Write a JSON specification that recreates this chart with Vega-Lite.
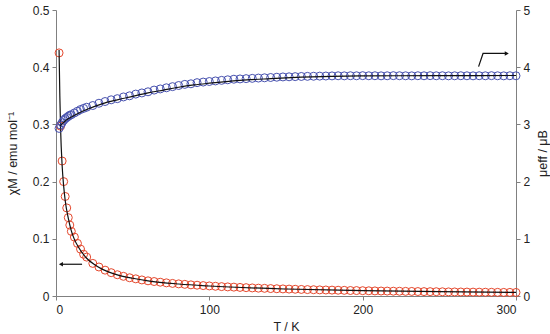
{
  "$schema": "https://vega.github.io/schema/vega-lite/v6.json",
  "width": 460,
  "height": 286,
  "autosize": {"type": "none"},
  "padding": {"left": 56, "top": 10, "right": 34, "bottom": 38},
  "background": "white",
  "config": {
    "view": {"stroke": null},
    "font": "Liberation Sans",
    "axis": {
      "domainColor": "#808080",
      "tickColor": "#808080",
      "labelColor": "#222222",
      "titleColor": "#222222",
      "labelFontSize": 12,
      "titleFontSize": 12.5,
      "titleFontWeight": "normal",
      "grid": false,
      "tickSize": 4
    }
  },
  "datasets": {
    "obs": [
      {"T": 2, "chi": 0.425, "mu": 2.93},
      {"T": 3, "chi": 0.297, "mu": 2.99},
      {"T": 4, "chi": 0.236, "mu": 3.03},
      {"T": 5, "chi": 0.2, "mu": 3.07},
      {"T": 6, "chi": 0.174, "mu": 3.1},
      {"T": 7, "chi": 0.154, "mu": 3.12},
      {"T": 8, "chi": 0.137, "mu": 3.14},
      {"T": 9, "chi": 0.124, "mu": 3.16},
      {"T": 10, "chi": 0.113, "mu": 3.17},
      {"T": 12, "chi": 0.103, "mu": 3.2},
      {"T": 14, "chi": 0.092, "mu": 3.23},
      {"T": 16, "chi": 0.082, "mu": 3.26},
      {"T": 18, "chi": 0.073, "mu": 3.28},
      {"T": 20, "chi": 0.068, "mu": 3.3},
      {"T": 24, "chi": 0.057, "mu": 3.33},
      {"T": 28, "chi": 0.0507, "mu": 3.37},
      {"T": 32, "chi": 0.0452, "mu": 3.4},
      {"T": 36, "chi": 0.0408, "mu": 3.43},
      {"T": 40, "chi": 0.0372, "mu": 3.45},
      {"T": 44, "chi": 0.0344, "mu": 3.48},
      {"T": 48, "chi": 0.0319, "mu": 3.5},
      {"T": 52, "chi": 0.03, "mu": 3.53},
      {"T": 56, "chi": 0.0281, "mu": 3.55},
      {"T": 60, "chi": 0.0265, "mu": 3.57},
      {"T": 64, "chi": 0.0253, "mu": 3.6},
      {"T": 68, "chi": 0.0241, "mu": 3.62},
      {"T": 72, "chi": 0.023, "mu": 3.64},
      {"T": 76, "chi": 0.022, "mu": 3.66},
      {"T": 80, "chi": 0.0212, "mu": 3.68},
      {"T": 84, "chi": 0.0204, "mu": 3.7},
      {"T": 88, "chi": 0.0195, "mu": 3.71},
      {"T": 92, "chi": 0.0189, "mu": 3.73},
      {"T": 96, "chi": 0.0182, "mu": 3.74},
      {"T": 100, "chi": 0.0176, "mu": 3.75},
      {"T": 104, "chi": 0.017, "mu": 3.76},
      {"T": 108, "chi": 0.0164, "mu": 3.77},
      {"T": 112, "chi": 0.0159, "mu": 3.78},
      {"T": 116, "chi": 0.0155, "mu": 3.79},
      {"T": 120, "chi": 0.015, "mu": 3.795},
      {"T": 124, "chi": 0.0146, "mu": 3.8},
      {"T": 128, "chi": 0.0141, "mu": 3.805},
      {"T": 132, "chi": 0.0137, "mu": 3.81},
      {"T": 136, "chi": 0.0134, "mu": 3.815},
      {"T": 140, "chi": 0.013, "mu": 3.82},
      {"T": 144, "chi": 0.0127, "mu": 3.825},
      {"T": 148, "chi": 0.0124, "mu": 3.83},
      {"T": 152, "chi": 0.0121, "mu": 3.832},
      {"T": 156, "chi": 0.0118, "mu": 3.835},
      {"T": 160, "chi": 0.0115, "mu": 3.838},
      {"T": 164, "chi": 0.0112, "mu": 3.84},
      {"T": 168, "chi": 0.011, "mu": 3.842},
      {"T": 172, "chi": 0.0107, "mu": 3.844},
      {"T": 176, "chi": 0.0105, "mu": 3.846},
      {"T": 180, "chi": 0.0103, "mu": 3.848},
      {"T": 184, "chi": 0.0101, "mu": 3.85},
      {"T": 188, "chi": 0.0099, "mu": 3.849},
      {"T": 192, "chi": 0.0096, "mu": 3.851},
      {"T": 196, "chi": 0.0095, "mu": 3.85},
      {"T": 200, "chi": 0.0093, "mu": 3.852},
      {"T": 204, "chi": 0.0091, "mu": 3.85},
      {"T": 208, "chi": 0.0089, "mu": 3.851},
      {"T": 212, "chi": 0.0087, "mu": 3.849},
      {"T": 216, "chi": 0.0086, "mu": 3.85},
      {"T": 220, "chi": 0.0084, "mu": 3.852},
      {"T": 224, "chi": 0.0083, "mu": 3.851},
      {"T": 228, "chi": 0.0081, "mu": 3.85},
      {"T": 232, "chi": 0.008, "mu": 3.849},
      {"T": 236, "chi": 0.0078, "mu": 3.851},
      {"T": 240, "chi": 0.0077, "mu": 3.85},
      {"T": 244, "chi": 0.0076, "mu": 3.852},
      {"T": 248, "chi": 0.0075, "mu": 3.85},
      {"T": 252, "chi": 0.0074, "mu": 3.851},
      {"T": 256, "chi": 0.0072, "mu": 3.849},
      {"T": 260, "chi": 0.0071, "mu": 3.85},
      {"T": 264, "chi": 0.007, "mu": 3.851},
      {"T": 268, "chi": 0.0069, "mu": 3.85},
      {"T": 272, "chi": 0.0068, "mu": 3.849},
      {"T": 276, "chi": 0.0067, "mu": 3.851},
      {"T": 280, "chi": 0.0066, "mu": 3.85},
      {"T": 284, "chi": 0.0065, "mu": 3.852},
      {"T": 288, "chi": 0.0064, "mu": 3.85},
      {"T": 292, "chi": 0.0063, "mu": 3.849},
      {"T": 296, "chi": 0.0063, "mu": 3.851},
      {"T": 300, "chi": 0.0062, "mu": 3.85}
    ],
    "chiFit": [
      {"T": 2, "chi": 0.43},
      {"T": 2.5, "chi": 0.35},
      {"T": 3, "chi": 0.292},
      {"T": 4, "chi": 0.228},
      {"T": 5, "chi": 0.192},
      {"T": 6, "chi": 0.167},
      {"T": 8, "chi": 0.136},
      {"T": 10, "chi": 0.114},
      {"T": 12, "chi": 0.099},
      {"T": 15, "chi": 0.084},
      {"T": 20, "chi": 0.066},
      {"T": 25, "chi": 0.055},
      {"T": 30, "chi": 0.047},
      {"T": 40, "chi": 0.037},
      {"T": 50, "chi": 0.031},
      {"T": 60, "chi": 0.0265},
      {"T": 80, "chi": 0.021},
      {"T": 100, "chi": 0.0175},
      {"T": 150, "chi": 0.0122},
      {"T": 200, "chi": 0.0093},
      {"T": 250, "chi": 0.0075},
      {"T": 300, "chi": 0.0062}
    ],
    "muFit": [
      {"T": 2.5, "mu": 2.97},
      {"T": 4, "mu": 3.01},
      {"T": 6, "mu": 3.06},
      {"T": 8, "mu": 3.1},
      {"T": 10, "mu": 3.13},
      {"T": 15, "mu": 3.2},
      {"T": 20, "mu": 3.26},
      {"T": 30, "mu": 3.36},
      {"T": 40, "mu": 3.43},
      {"T": 50, "mu": 3.49},
      {"T": 60, "mu": 3.55},
      {"T": 70, "mu": 3.6},
      {"T": 80, "mu": 3.65},
      {"T": 90, "mu": 3.69},
      {"T": 100, "mu": 3.72},
      {"T": 120, "mu": 3.77},
      {"T": 140, "mu": 3.8},
      {"T": 160, "mu": 3.825},
      {"T": 180, "mu": 3.84},
      {"T": 200, "mu": 3.848},
      {"T": 250, "mu": 3.852},
      {"T": 300, "mu": 3.855}
    ],
    "leftArrow": [
      {"T": 17, "chi": 0.0555, "ord": 1},
      {"T": 3.6, "chi": 0.0555, "ord": 2}
    ],
    "leftHead": [{"T": 3.2, "chi": 0.0555}],
    "rightArrow": [
      {"T": 275.6, "mu": 4.01, "ord": 1},
      {"T": 278.5, "mu": 4.24, "ord": 2},
      {"T": 293.0, "mu": 4.24, "ord": 3}
    ],
    "rightHead": [{"T": 294.0, "mu": 4.24}]
  },
  "resolve": {"scale": {"y": "independent"}},
  "layer": [
    {
      "layer": [
        {
          "data": {"name": "obs"},
          "mark": {"type": "point", "shape": "circle", "filled": false, "color": "#E4472C", "size": 64, "strokeWidth": 1, "opacity": 1},
          "encoding": {
            "x": {"field": "T", "type": "quantitative", "scale": {"domain": [0, 300], "nice": false}, "axis": {"values": [0, 100, 200, 300], "title": "T / K", "labelPadding": 4, "titlePadding": 5}},
            "y": {"field": "chi", "type": "quantitative", "scale": {"domain": [0, 0.5], "nice": false}, "axis": {"orient": "left", "values": [0, 0.1, 0.2, 0.3, 0.4, 0.5], "format": ".1~f", "title": "χM / emu mol⁻¹", "labelPadding": 3, "titlePadding": 13}}
          }
        },
        {
          "data": {"name": "chiFit"},
          "mark": {"type": "line", "color": "#111111", "strokeWidth": 1.2, "interpolate": "monotone"},
          "encoding": {
            "x": {"field": "T", "type": "quantitative"},
            "y": {"field": "chi", "type": "quantitative"}
          }
        },
        {
          "data": {"name": "leftArrow"},
          "mark": {"type": "line", "color": "#111111", "strokeWidth": 1.2},
          "encoding": {
            "x": {"field": "T", "type": "quantitative"},
            "y": {"field": "chi", "type": "quantitative"},
            "order": {"field": "ord"}
          }
        },
        {
          "data": {"name": "leftHead"},
          "mark": {"type": "point", "shape": "triangle-left", "filled": true, "color": "#111111", "size": 22, "opacity": 1},
          "encoding": {
            "x": {"field": "T", "type": "quantitative"},
            "y": {"field": "chi", "type": "quantitative"}
          }
        }
      ]
    },
    {
      "layer": [
        {
          "data": {"name": "obs"},
          "mark": {"type": "point", "shape": "circle", "filled": false, "color": "#4650AE", "size": 64, "strokeWidth": 1, "opacity": 1},
          "encoding": {
            "x": {"field": "T", "type": "quantitative"},
            "y": {"field": "mu", "type": "quantitative", "scale": {"domain": [0, 5], "nice": false}, "axis": {"orient": "right", "values": [0, 1, 2, 3, 4, 5], "format": "d", "title": "μeff / μB", "titleAngle": 270, "titleBaseline": "top", "labelPadding": 3, "titlePadding": 7}}
          }
        },
        {
          "data": {"name": "muFit"},
          "mark": {"type": "line", "color": "#111111", "strokeWidth": 1.2, "interpolate": "monotone"},
          "encoding": {
            "x": {"field": "T", "type": "quantitative"},
            "y": {"field": "mu", "type": "quantitative"}
          }
        },
        {
          "data": {"name": "rightArrow"},
          "mark": {"type": "line", "color": "#111111", "strokeWidth": 1.2},
          "encoding": {
            "x": {"field": "T", "type": "quantitative"},
            "y": {"field": "mu", "type": "quantitative"},
            "order": {"field": "ord"}
          }
        },
        {
          "data": {"name": "rightHead"},
          "mark": {"type": "point", "shape": "triangle-right", "filled": true, "color": "#111111", "size": 22, "opacity": 1},
          "encoding": {
            "x": {"field": "T", "type": "quantitative"},
            "y": {"field": "mu", "type": "quantitative"}
          }
        }
      ]
    }
  ]
}
